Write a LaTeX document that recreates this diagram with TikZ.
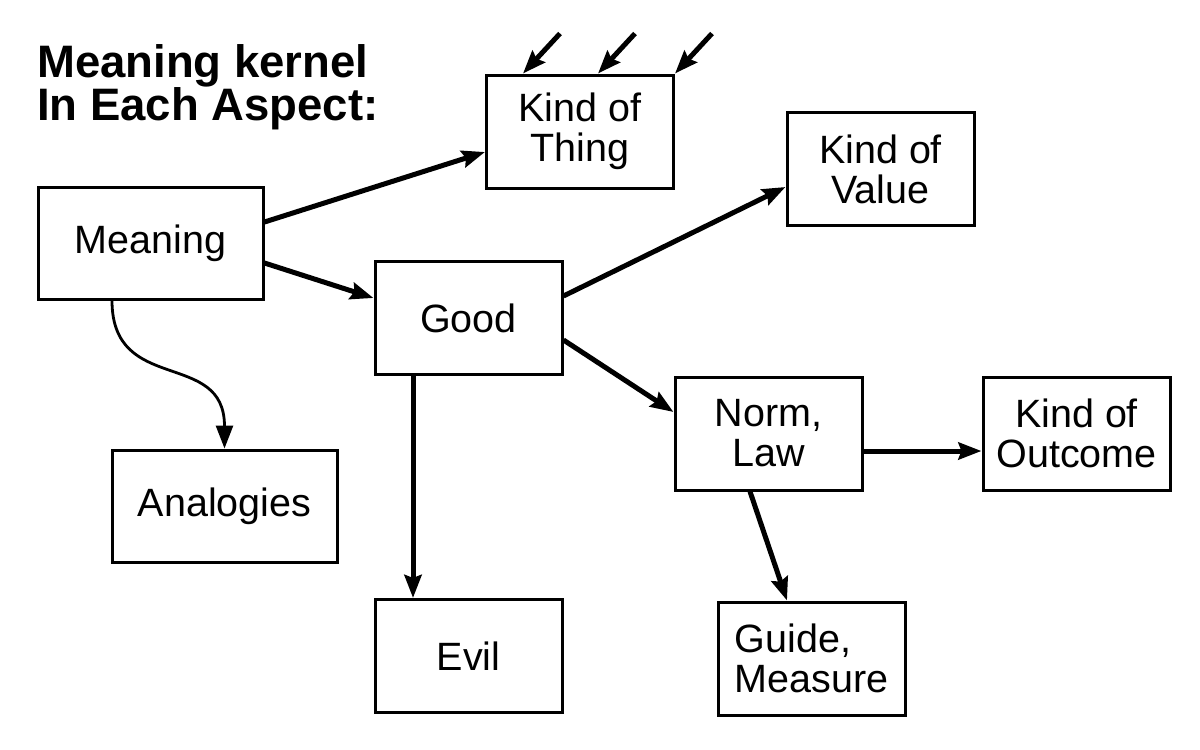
\documentclass[tikz,border=0pt]{standalone}
\usepackage{fontspec}
\setmainfont{Liberation Sans}
\usetikzlibrary{arrows.meta,calc}
\begin{document}
\begin{tikzpicture}[x=1pt,y=-1pt,
  box/.style={draw,line width=3pt,minimum width=187pt,minimum height=113pt,inner sep=0pt,
    align=center,font=\fontsize{39.5}{40}\selectfont},
  widebox/.style={box,minimum width=225pt,minimum height=112pt},
  conn/.style={line width=5pt,-{Stealth[length=23pt,width=17pt,inset=3pt]}},
  thin/.style={line width=2.8pt,-{Triangle[length=23pt,width=17pt]}}]
\useasboundingbox (0,0) rectangle (1200,750);
\node[anchor=north west,inner sep=0pt,align=left,font=\fontsize{45.5}{41}\selectfont\bfseries] (title) at (37,44) {Meaning kernel\\In Each Aspect:};
\node[box] (thing) at (580,131.5) {Kind of\\Thing};
\node[box] (value) at (880.5,169) {Kind of\\Value};
\node[widebox] (meaning) at (150.5,243) {Meaning};
\node[box] (good) at (468.5,318) {Good};
\node[box] (norm) at (768.5,433.5) {Norm,\\Law};
\node[box] (outcome) at (1076.5,433.5) {Kind of\\Outcome};
\node[widebox] (analog) at (224.5,506) {Analogies};
\node[box] (evil) at (468.5,656) {Evil};
\node[box,align=left] (guide) at (811.5,658.5) {Guide,\\Measure};
% incoming arrows above Kind of Thing
\coordinate (t1) at ($(thing.north west)+(38,0)$);
\coordinate (t2) at ($(thing.north west)+(113,0)$);
\coordinate (t3) at (thing.north east);
\coordinate (s1) at ($(t1)+(37,-40)$);
\coordinate (s2) at ($(t2)+(37,-40)$);
\coordinate (s3) at ($(t3)+(37,-40)$);
\draw[conn] (s1) -- (t1);
\draw[conn] (s2) -- (t2);
\draw[conn] (s3) -- (t3);
% connectors
\draw[conn] ($(meaning.east)+(0,-21)$) -- ($(thing.west)+(0,20.5)$);
\draw[conn] ($(meaning.east)+(0,20)$) -- ($(good.west)+(0,-20)$);
\draw[conn] ($(good.east)+(0,-22)$) -- ($(value.west)+(0,18)$);
\draw[conn] ($(good.east)+(0,22)$) -- ($(norm.west)+(0,-21.5)$);
\draw[conn] ($(good.south)+(-55.5,0)$) -- ($(evil.north)+(-55.5,0)$);
\draw[conn] ($(norm.east)+(0,17.5)$) -- ($(outcome.west)+(0,17.5)$);
\draw[conn] ($(norm.south)+(-18.5,0)$) -- ($(guide.north)+(-24.5,0)$);
\draw[thin] ($(meaning.south)+(-38.5,0)$) .. controls ($(meaning.south)+(-38.5,95)$) and ($(analog.north)+(0,-100)$) .. (analog.north);
\end{tikzpicture}
\end{document}
